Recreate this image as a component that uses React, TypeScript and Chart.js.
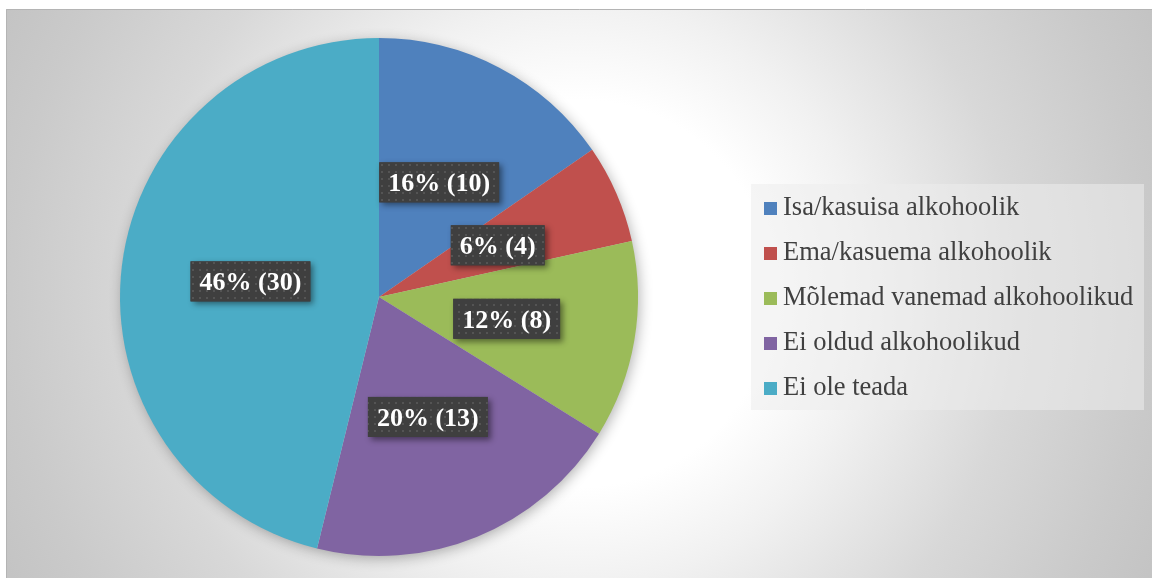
import React, { useEffect, useRef } from "react";
import { Chart, registerables } from "chart.js";

Chart.register(...registerables);

const categories = [
  "Isa/kasuisa alkohoolik",
  "Ema/kasuema alkohoolik",
  "Mõlemad vanemad alkohoolikud",
  "Ei oldud alkohoolikud",
  "Ei ole teada",
];
const counts = [10, 4, 8, 13, 30];
const percentLabels = ["16%", "6%", "12%", "20%", "46%"];
const sliceColors = ["#4F81BD", "#C0504D", "#9BBB59", "#8064A2", "#4BACC6"];

const FONT = '"Liberation Serif", "Times New Roman", serif';

function makePattern(ctx: CanvasRenderingContext2D) {
  const c = document.createElement("canvas");
  c.width = 7;
  c.height = 7;
  const p = c.getContext("2d")!;
  p.fillStyle = "#3f3f3f";
  p.fillRect(0, 0, 7, 7);
  p.fillStyle = "#545454";
  p.fillRect(3, 3, 2, 2);
  return ctx.createPattern(c, "repeat");
}

const backgroundPlugin = {
  id: "bgPlugin",
  beforeDraw(chart: any) {
    const ctx = chart.ctx as CanvasRenderingContext2D;
    const x0 = 6, y0 = 9, x1 = chart.width, y1 = chart.height;
    const cx = (x0 + x1) / 2, cy = (y0 + y1) / 2;
    ctx.save();
    ctx.fillStyle = "#ffffff";
    ctx.fillRect(0, 0, chart.width, chart.height);
    const g = ctx.createRadialGradient(cx, cy, 0, cx, cy, 645);
    g.addColorStop(0, "#ffffff");
    g.addColorStop(0.3, "#ffffff");
    g.addColorStop(0.45, "#f1f1f1");
    g.addColorStop(0.68, "#d8d8d8");
    g.addColorStop(0.88, "#cacaca");
    g.addColorStop(1, "#c3c3c3");
    ctx.fillStyle = g;
    ctx.fillRect(x0, y0, x1 - x0, y1 - y0);
    ctx.strokeStyle = "#b4b4b4";
    ctx.lineWidth = 1;
    ctx.beginPath();
    ctx.moveTo(x0 + 0.5, y1);
    ctx.lineTo(x0 + 0.5, y0 + 0.5);
    ctx.lineTo(x1, y0 + 0.5);
    ctx.stroke();
    ctx.restore();
  },
  beforeDatasetsDraw(chart: any) {
    const meta = chart.getDatasetMeta(0);
    const arc = meta.data[0];
    if (!arc) return;
    const { x, y, outerRadius } = arc.getProps(["x", "y", "outerRadius"], true);
    const ctx = chart.ctx as CanvasRenderingContext2D;
    ctx.save();
    ctx.shadowColor = "rgba(0,0,0,0.32)";
    ctx.shadowBlur = 14;
    ctx.shadowOffsetX = 2;
    ctx.shadowOffsetY = 3;
    ctx.fillStyle = "#cccccc";
    ctx.beginPath();
    ctx.arc(x, y, outerRadius - 1, 0, Math.PI * 2);
    ctx.fill();
    ctx.restore();
  },
};

const labelPlugin = {
  id: "sliceLabels",
  afterDatasetsDraw(chart: any) {
    const ctx = chart.ctx as CanvasRenderingContext2D;
    const meta = chart.getDatasetMeta(0);
    const data = chart.data.datasets[0].data as number[];
    const pattern = makePattern(ctx);
    ctx.save();
    ctx.font = `bold 26px ${FONT}`;
    meta.data.forEach((arc: any, i: number) => {
      const { x, y, startAngle, endAngle, outerRadius } = arc.getProps(
        ["x", "y", "startAngle", "endAngle", "outerRadius"],
        true
      );
      const mid = (startAngle + endAngle) / 2;
      const r = outerRadius * 0.5;
      const lx = x + Math.cos(mid) * r;
      const ly = y + Math.sin(mid) * r;
      const text = `${percentLabels[i]} (${data[i]})`;
      const tw = ctx.measureText(text).width;
      const bw = tw + 18;
      const bh = 40;
      const bx = lx - bw / 2;
      const by = ly - bh / 2;
      ctx.save();
      ctx.shadowColor = "rgba(0,0,0,0.45)";
      ctx.shadowBlur = 6;
      ctx.shadowOffsetX = 3;
      ctx.shadowOffsetY = 3;
      ctx.fillStyle = "#3f3f3f";
      ctx.fillRect(bx, by, bw, bh);
      ctx.restore();
      if (pattern) {
        ctx.fillStyle = pattern;
        ctx.fillRect(bx, by, bw, bh);
      }
      ctx.fillStyle = "#ffffff";
      ctx.textAlign = "center";
      ctx.textBaseline = "alphabetic";
      ctx.fillText(text, lx, ly + 9);
    });
    ctx.restore();
  },
};

const legendPlugin = {
  id: "customLegend",
  afterDraw(chart: any) {
    const ctx = chart.ctx as CanvasRenderingContext2D;
    const labels = chart.data.labels as string[];
    const colors = chart.data.datasets[0].backgroundColor as string[];
    ctx.save();
    ctx.fillStyle = "rgba(236,236,236,0.55)";
    ctx.fillRect(751, 184, 393, 226);
    ctx.font = `26.5px ${FONT}`;
    ctx.textAlign = "left";
    ctx.textBaseline = "alphabetic";
    labels.forEach((lab, i) => {
      const rowY = 208 + i * 45;
      ctx.fillStyle = colors[i];
      ctx.fillRect(764, rowY - 6, 13, 13);
      ctx.fillStyle = "#404040";
      ctx.fillText(lab, 783, rowY + 7);
    });
    ctx.restore();
  },
};

export default function App() {
  const canvasRef = useRef<HTMLCanvasElement | null>(null);

  useEffect(() => {
    document.body.style.margin = "0";
    const canvas = canvasRef.current;
    if (!canvas) return;
    const chart = new Chart(canvas, {
      type: "pie",
      data: {
        labels: categories,
        datasets: [
          {
            data: counts,
            backgroundColor: sliceColors,
            borderWidth: 0,
          },
        ],
      },
      options: {
        responsive: false,
        animation: false,
        layout: { padding: { left: 120, right: 514, top: 38, bottom: 22 } },
        plugins: {
          legend: { display: false },
          tooltip: { enabled: false },
        },
      },
      plugins: [backgroundPlugin, labelPlugin, legendPlugin],
    });
    return () => chart.destroy();
  }, []);

  return (
    <div style={{ position: "absolute", left: 0, top: 0, width: 1152, height: 578 }}>
      <canvas ref={canvasRef} width={1152} height={578} style={{ display: "block" }} />
    </div>
  );
}
